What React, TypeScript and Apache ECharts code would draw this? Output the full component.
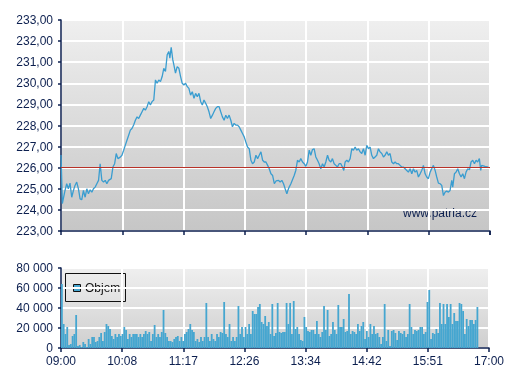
import React, { useEffect, useRef } from 'react';
import * as echarts from 'echarts';

// ---- tick labels ----
const timeTickLabels = ['09:00', '10:08', '11:17', '12:26', '13:34', '14:42', '15:51', '17:00'];
const priceTickLabels = ['223,00', '224,00', '225,00', '226,00', '227,00', '228,00', '229,00', '230,00', '231,00', '232,00', '233,00'];
const volumeTickLabels = ['0', '20 000', '40 000', '60 000', '80 000'];

// ---- reference (previous close) ----
const referencePrice = 226.0;

// ---- price: minutes after 09:00 and price ----
const priceTimes = [
  0, 0.7, 1.5, 2.2, 4.5, 6.4, 8.2, 10.1, 12.0, 13.9, 15.7, 17.6, 19.5, 21.4, 23.2, 25.1, 27.0, 28.9, 30.7, 32.6,
  34.5, 36.3, 38.2, 40.1, 42.0, 43.8, 45.7, 47.6, 49.5, 51.3, 53.2, 56.2, 58.1, 60.0, 61.8, 63.7, 66.3, 68.2, 70.1, 71.9,
  73.8, 75.7, 77.6, 79.4, 81.3, 83.2, 85.1, 86.9, 88.8, 90.7, 92.6, 94.4, 96.3, 98.2, 100.0, 101.9, 103.8, 105.7, 107.5, 109.4,
  111.3, 113.2, 115.0, 116.9, 118.8, 120.6, 121.8, 123.3, 125.1, 126.3, 128.1, 130.0, 131.9, 133.8, 135.6, 137.5, 139.4, 141.3, 143.1, 145.0,
  146.9, 148.8, 150.6, 152.5, 154.4, 156.3, 158.1, 160.0, 161.9, 163.7, 165.6, 167.5, 169.4, 171.2, 173.1, 175.0, 176.9, 178.7, 180.6, 182.5,
  184.4, 186.2, 188.1, 190.0, 191.8, 193.7, 195.6, 197.5, 199.3, 201.2, 203.1, 205.0, 206.8, 208.7, 210.6, 212.5, 214.3, 216.2, 218.1, 220.0,
  221.8, 223.7, 225.6, 227.4, 229.3, 231.2, 233.0, 234.9, 236.8, 238.7, 240.6, 243.4, 245.2, 247.1, 249.0, 250.8, 252.7, 253.8, 255.3, 257.2,
  259.0, 260.9, 262.7, 264.6, 266.5, 268.3, 270.2, 272.1, 273.9, 275.8, 277.7, 279.5, 281.4, 283.2, 285.1, 287.0, 288.8, 290.7, 292.6, 294.4,
  296.3, 298.2, 300.0, 301.9, 303.7, 305.6, 307.5, 309.3, 311.2, 313.1, 314.9, 316.4, 317.9, 319.8, 321.6, 323.5, 325.4, 327.2, 329.1, 330.9,
  332.8, 334.7, 336.5, 338.4, 340.3, 342.1, 344.0, 345.9, 347.7, 349.6, 351.4, 353.3, 355.2, 357.0, 358.9, 360.8, 362.6, 364.5, 366.4, 368.2,
  370.1, 372.0, 373.8, 375.7, 377.5, 379.4, 381.3, 383.1, 385.0, 386.9, 388.7, 390.6, 392.5, 394.3, 396.2, 398.0, 399.9, 401.8, 403.6, 405.5,
  407.4, 409.2, 411.1, 413.0, 414.8, 416.7, 418.6, 420.4, 422.3, 424.2, 426.0, 427.9, 429.7, 431.6, 433.5, 435.3, 437.2, 438.3, 440.2, 442.0,
  443.9, 445.8, 447.6, 449.5, 451.4, 453.2, 455.1, 457.0, 458.8, 460.7, 462.6, 464.4, 466.2, 468.1, 469.6, 470.7, 474.4, 478.1,
];
const priceValues = [
  226.6, 225.6, 224.3, 224.29, 224.92, 225.24, 225.0, 225.27, 224.6, 224.92, 225.16, 225.32, 225.0, 224.52, 224.48, 224.92, 224.6, 225.0, 224.76, 224.95,
  224.84, 225.0, 225.08, 225.24, 225.4, 226.19, 225.4, 225.32, 225.4, 225.24, 225.4, 225.48, 226.03, 226.19, 226.67, 226.43, 226.5, 226.59, 226.83, 227.06,
  227.3, 227.54, 227.78, 227.86, 228.02, 228.25, 228.41, 228.33, 228.49, 228.65, 228.81, 228.73, 228.89, 229.13, 228.97, 229.13, 229.21, 230.16, 230.0, 230.16,
  230.08, 230.32, 230.71, 230.56, 231.35, 231.51, 231.19, 231.71, 231.11, 230.87, 230.48, 230.79, 230.71, 230.32, 230.0, 229.92, 230.0, 229.84, 229.76, 229.44,
  229.6, 229.29, 229.52, 229.37, 229.52, 229.13, 228.97, 229.21, 229.05, 228.89, 228.65, 228.33, 228.49, 228.65, 228.81, 228.89, 228.89, 228.65, 228.41, 228.25,
  228.49, 228.33, 228.49, 228.25, 227.94, 228.1, 228.02, 228.02, 227.94, 227.78, 227.62, 227.46, 227.22, 226.98, 226.9, 226.35, 226.19, 226.27, 226.59, 226.43,
  226.59, 226.75, 226.35, 226.27, 226.27, 226.11, 225.95, 225.71, 225.63, 225.24, 225.37, 225.4, 225.32, 225.4, 225.24, 225.0, 224.76, 224.92, 225.08, 225.24,
  225.43, 225.63, 225.87, 226.35, 226.27, 226.43, 226.27, 226.19, 226.06, 226.27, 226.83, 226.59, 226.86, 226.9, 226.51, 226.35, 226.19, 225.95, 226.19, 226.03,
  226.27, 226.59, 226.35, 226.27, 226.43, 226.19, 226.11, 226.03, 226.19, 226.19, 226.03, 225.87, 226.27, 226.35, 226.27, 226.43, 226.9, 226.83, 226.98, 226.83,
  226.9, 226.75, 226.67, 226.9, 226.59, 227.06, 226.9, 226.98, 226.59, 226.43, 226.51, 226.59, 226.9, 226.75, 226.67, 226.51, 226.59, 226.75, 226.59, 226.67,
  226.27, 226.19, 226.27, 226.19, 226.19, 226.11, 226.03, 226.03, 225.95, 225.87, 225.79, 225.95, 225.71, 225.95, 225.79, 225.87, 225.56, 225.71, 225.87, 226.11,
  225.71, 225.56, 225.48, 225.79, 225.95, 226.11, 225.87, 225.56, 225.27, 225.24, 225.16, 224.68, 224.84, 224.89, 224.84, 224.92, 225.4, 225.08, 225.71, 225.79,
  225.95, 225.71, 225.56, 225.71, 225.48, 225.79, 225.95, 225.9, 226.27, 226.35, 226.19, 226.35, 226.27, 226.43, 225.87, 226.11, 226.06, 226.03,
];

// ---- volume in thousands, 2-minute buckets starting 09:00 ----
const volumeBucketMinutes = 2;
const volumeThousands = [
  64, 24, 14, 21, 3, 4, 12, 14, 33, 2, 3, 1, 6, 4, 1, 9, 4, 11, 11, 6, 7, 11, 15, 7, 16, 24, 22, 19, 12, 9, 14, 11, 14, 12, 14, 21, 18, 9, 14, 11,
  14, 14, 14, 11, 14, 11, 14, 17, 14, 16, 7, 14, 23, 11, 14, 11, 16, 38, 15, 11, 7, 7, 6, 9, 11, 12, 7, 11, 7, 14, 16, 19, 24, 18, 16, 7, 9, 6, 11, 7,
  11, 45, 11, 7, 14, 9, 7, 14, 11, 16, 15, 46, 14, 11, 24, 7, 11, 7, 11, 42, 14, 21, 11, 21, 14, 24, 14, 37, 34, 34, 41, 44, 26, 24, 32, 22, 26, 14, 44,
  12, 15, 45, 16, 15, 16, 16, 45, 24, 45, 14, 47, 19, 21, 14, 8, 7, 31, 21, 17, 16, 18, 18, 14, 27, 14, 11, 16, 42, 18,
  38, 12, 14, 26, 18, 14, 43, 21, 21, 29, 16, 17, 54, 14, 17, 16, 14, 24, 17, 22, 26, 9, 17, 11, 24, 14, 22, 14, 15, 11,
  4, 11, 44, 7, 18, 2, 17, 18, 15, 8, 17, 15, 14, 17, 11, 14, 44, 21, 14, 18, 17, 18, 21, 21, 14, 16, 46, 58, 9, 15,
  14, 19, 15, 45, 24, 44, 24, 44, 31, 44, 24, 35, 27, 27, 45, 44, 37, 14, 29, 22, 28, 28, 24, 28, 41,
];

const SESSION_MINUTES = 480;
const TICK_STEP = SESSION_MINUTES / 7;
const NAVY = '#0c1f4f';
const FONT = '"Liberation Sans", Arial, sans-serif';
const LINE_BLUE = '#3a9dd0';
const BAR_BLUE = '#45a6d0';

export default function App() {
  const ref = useRef<HTMLDivElement>(null);

  useEffect(() => {
    if (!ref.current) return;
    const chart = echarts.init(ref.current, null, { renderer: 'svg' });

    const bgTop = new echarts.graphic.LinearGradient(0, 0, 0, 1, [
      { offset: 0, color: '#efefef' },
      { offset: 1, color: '#c6c6c6' },
    ]);
    const bgBottom = new echarts.graphic.LinearGradient(0, 0, 0, 1, [
      { offset: 0, color: '#efefef' },
      { offset: 1, color: '#cfcfcf' },
    ]);

    const axisLine = { show: true, lineStyle: { color: NAVY, width: 1.5 } };
    const whiteSplit = { show: true, lineStyle: { color: '#ffffff', width: 2 } };
    const labelStyle = { fontFamily: FONT, fontSize: 12, color: NAVY };

    const timeAxisBase = {
      type: 'value' as const,
      min: 0,
      max: SESSION_MINUTES,
      interval: TICK_STEP,
      axisLine: { ...axisLine, onZero: false },
      axisTick: { show: true, length: 4, lineStyle: { color: NAVY, width: 1.5 } },
      splitLine: whiteSplit,
    };

    const option = {
      animation: false,
      grid: [
        { left: 61, right: 17, top: 20, height: 211, show: true, backgroundColor: bgTop, borderWidth: 0 },
        { left: 61, right: 17, top: 268, height: 80, show: true, backgroundColor: bgBottom, borderWidth: 0 },
      ],
      xAxis: [
        { ...timeAxisBase, gridIndex: 0, axisLabel: { show: false } },
        {
          ...timeAxisBase,
          gridIndex: 1,
          axisLabel: {
            ...labelStyle,
            margin: 7,
            lineHeight: 12,
            formatter: (v: number) => timeTickLabels[Math.round(v / TICK_STEP)] ?? '',
          },
        },
      ],
      yAxis: [
        {
          gridIndex: 0,
          type: 'value',
          min: 223,
          max: 233,
          interval: 1,
          axisLine,
          axisTick: { show: true, length: 3, lineStyle: { color: NAVY, width: 1.5 } },
          axisLabel: {
            ...labelStyle,
            margin: 8,
            formatter: (v: number) => priceTickLabels[Math.round(v - 223)] ?? '',
          },
          splitLine: whiteSplit,
        },
        {
          gridIndex: 1,
          type: 'value',
          min: 0,
          max: 80000,
          interval: 20000,
          axisLine,
          axisTick: { show: true, length: 3, lineStyle: { color: NAVY, width: 1.5 } },
          axisLabel: {
            ...labelStyle,
            margin: 8,
            lineHeight: 11,
            formatter: (v: number) => volumeTickLabels[Math.round(v / 20000)] ?? '',
          },
          splitLine: whiteSplit,
        },
      ],
      series: [
        {
          type: 'bar',
          xAxisIndex: 1,
          yAxisIndex: 1,
          barWidth: 1.8,
          itemStyle: { color: BAR_BLUE },
          data: volumeThousands.map((v, i) => [i * volumeBucketMinutes + volumeBucketMinutes / 2, v * 1000]),
        },
        {
          type: 'line',
          xAxisIndex: 0,
          yAxisIndex: 0,
          showSymbol: false,
          symbol: 'none',
          lineStyle: { color: LINE_BLUE, width: 1.3 },
          data: priceTimes.map((t, i) => [t, priceValues[i]]),
          z: 3,
          markLine: {
            silent: true,
            symbol: 'none',
            label: { show: false },
            lineStyle: { color: '#b83228', width: 1.2, type: 'solid' },
            data: [{ yAxis: referencePrice }],
          },
        },
      ],
      graphic: [
        {
          type: 'text',
          x: 403,
          y: 213,
          style: { text: 'www.patria.cz', font: `12px ${FONT}`, fill: NAVY, verticalAlign: 'middle' },
        },
        {
          type: 'rect',
          shape: { x: 65.5, y: 273.5, width: 60, height: 28 },
          style: { fill: 'none', stroke: '#111111', lineWidth: 1 },
        },
        {
          type: 'rect',
          shape: { x: 73.5, y: 284.5, width: 7, height: 7 },
          style: { fill: BAR_BLUE, stroke: '#111111', lineWidth: 1 },
        },
        {
          type: 'text',
          x: 85,
          y: 288,
          style: { text: 'Objem', font: `12px ${FONT}`, fill: '#111111', verticalAlign: 'middle' },
        },
      ],
    };

    chart.setOption(option as any);
    return () => chart.dispose();
  }, []);

  return <div ref={ref} style={{ position: 'fixed', left: 0, top: 0, width: 507, height: 380 }} />;
}
